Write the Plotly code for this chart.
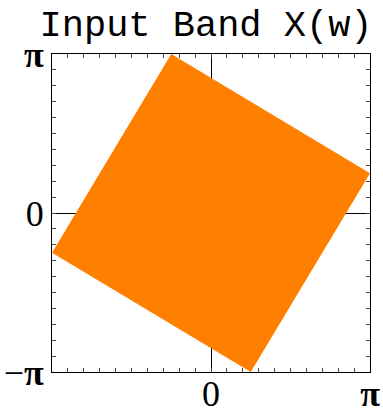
import numpy as np
import plotly.graph_objects as go

PI = np.pi

# Corners of the input band, in units of pi (w1, w2)
band_w1 = [-0.25, 1.0, 0.25, -1.0, -0.25]
band_w2 = [1.0, 0.25, -1.0, -0.25, 1.0]

# Tick positions every pi/10, labels only at -pi, 0, pi
tick_steps = list(range(-10, 11))
x_labels = {0: "0", 10: "<b>π</b>"}
y_labels = {-10: "−<b>π</b>", 0: "0", 10: "<b>π</b>"}

tickvals = [k * PI / 10 for k in tick_steps]
x_ticktext = [x_labels.get(k, "") for k in tick_steps]
y_ticktext = [y_labels.get(k, "") for k in tick_steps]

fig = go.Figure()
fig.add_trace(go.Scatter(
    x=[v * PI for v in band_w1],
    y=[v * PI for v in band_w2],
    mode="lines",
    fill="toself",
    fillcolor="#FF8000",
    line=dict(width=0, color="#FF8000"),
    hoverinfo="skip",
    showlegend=False,
))

axis_common = dict(
    range=[-PI, PI],
    tickvals=tickvals,
    ticks="inside",
    ticklen=4,
    tickwidth=1,
    tickcolor="#444444",
    showline=True,
    linecolor="black",
    linewidth=1,
    mirror="ticks",
    showgrid=False,
    zeroline=True,
    zerolinecolor="black",
    zerolinewidth=1,
    layer="above traces",
    automargin=False,
    tickfont=dict(family="Liberation Serif", size=36, color="black"),
    fixedrange=True,
)

fig.update_xaxes(ticktext=x_ticktext, ticklabelstandoff=-10, **axis_common)
fig.update_yaxes(ticktext=y_ticktext, **axis_common)

fig.update_layout(
    width=383,
    height=412,
    margin=dict(l=52, r=13, t=54, b=40, autoexpand=False),
    paper_bgcolor="white",
    plot_bgcolor="white",
    title=dict(
        text="Input Band X(w)",
        font=dict(family="Liberation Mono", size=37, color="black"),
        x=0.538,
        xanchor="center",
        xref="container",
        y=1 - 23 / 412,
        yanchor="middle",
        yref="container",
        automargin=False,
    ),
)

fig.write_html("out.html")
